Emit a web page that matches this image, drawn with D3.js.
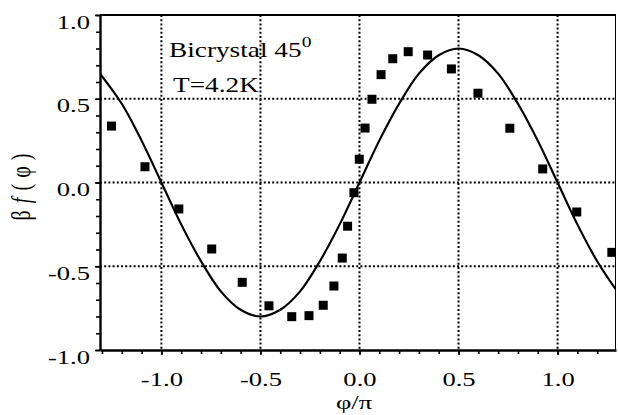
<!DOCTYPE html>
<html>
<head>
<meta charset="utf-8">
<script src="https://cdn.jsdelivr.net/npm/d3@7"></script>
<style>
  body { margin: 0; background: #fff; }
  svg { display: block; font-family: "Liberation Serif", "Times New Roman", serif; }
</style>
</head>
<body>
<script>
// measured points (phi/pi, beta f)
const phiData = [-1.252, -1.083, -0.912, -0.746, -0.592, -0.457, -0.342, -0.255, -0.183, -0.129,
  -0.087, -0.060, -0.028, -0.001, 0.028, 0.063, 0.109, 0.168, 0.246, 0.344, 0.464, 0.598,
  0.759, 0.925, 1.097, 1.274];
const fData = [0.337, 0.094, -0.158, -0.397, -0.596, -0.736, -0.801, -0.795, -0.733, -0.618,
  -0.451, -0.261, -0.061, 0.139, 0.325, 0.497, 0.644, 0.739, 0.781, 0.761, 0.678, 0.533,
  0.324, 0.081, -0.176, -0.417];

// theory curve
const phiCurve = [-1.31, -1.2, -1.1, -1.0, -0.9, -0.8, -0.7, -0.6, -0.5, -0.4, -0.3, -0.2, -0.1,
  0, 0.1, 0.2, 0.3, 0.4, 0.5, 0.6, 0.7, 0.8, 0.9, 1.0, 1.1, 1.2, 1.295];
const fCurve = [0.65, 0.47, 0.25, 0.0, -0.25, -0.47, -0.65, -0.76, -0.80, -0.76, -0.65, -0.47, -0.25,
  0, 0.25, 0.47, 0.65, 0.76, 0.80, 0.76, 0.65, 0.47, 0.25, 0, -0.25, -0.47, -0.64];

const xTicks = [-1.0, -0.5, 0.0, 0.5, 1.0];
const yTicks = [-1.0, -0.5, 0.0, 0.5, 1.0];

const width = 618, height = 415;
const margin = {top: 15, right: 2, bottom: 65, left: 100};
const stretch = 1.4; // glyphs in the figure are wider than tall

const x = d3.scaleLinear().domain([-1.31, 1.295]).range([margin.left, width - margin.right]);
const y = d3.scaleLinear().domain([-1, 1]).range([height - margin.bottom, margin.top]);

const svg = d3.select("body").append("svg")
    .attr("width", width)
    .attr("height", height);

svg.append("clipPath").attr("id", "clip")
  .append("rect")
    .attr("x", margin.left).attr("y", margin.top)
    .attr("width", width - margin.left - margin.right)
    .attr("height", height - margin.top - margin.bottom);

// dotted grid
const grid = svg.append("g")
    .attr("stroke", "#000")
    .attr("stroke-width", 2)
    .attr("stroke-dasharray", "2,2.2");
grid.selectAll("line.v")
  .data(xTicks)
  .join("line")
    .attr("class", "v")
    .attr("x1", d => x(d)).attr("x2", d => x(d))
    .attr("y1", y(1)).attr("y2", y(-1));
grid.selectAll("line.h")
  .data(yTicks.filter(d => Math.abs(d) < 1))
  .join("line")
    .attr("class", "h")
    .attr("x1", x.range()[0]).attr("x2", x.range()[1])
    .attr("y1", d => y(d)).attr("y2", d => y(d));

// frame: top and right
svg.append("line")
    .attr("x1", margin.left).attr("x2", width - margin.right)
    .attr("y1", y(1)).attr("y2", y(1))
    .attr("stroke", "#000").attr("stroke-width", 2);
svg.append("line")
    .attr("x1", width - margin.right - 0.5).attr("x2", width - margin.right - 0.5)
    .attr("y1", y(1)).attr("y2", y(-1))
    .attr("stroke", "#000").attr("stroke-width", 1);

// minor ticks
const minorX = d3.range(-13, 13).map(i => i / 10).filter(v => v >= x.domain()[0] && v <= x.domain()[1]);
const minorY = d3.range(-10, 11).map(i => i / 10);

svg.append("g")
    .attr("transform", `translate(0,${y(-1)})`)
    .call(d3.axisBottom(x).tickValues(minorX).tickSize(4).tickFormat(""))
    .call(g => g.select(".domain").remove())
    .selectAll("line").attr("stroke-width", 1.6);
svg.append("g")
    .attr("transform", `translate(${margin.left},0)`)
    .call(d3.axisLeft(y).tickValues(minorY).tickSize(4).tickFormat(""))
    .call(g => g.select(".domain").remove())
    .selectAll("line").attr("stroke-width", 1.6);

// major axes
const xAxis = svg.append("g")
    .attr("transform", `translate(0,${y(-1)})`)
    .call(d3.axisBottom(x).tickValues(xTicks).tickSize(5).tickSizeOuter(0).tickFormat(d => d.toFixed(1)));
xAxis.select(".domain").attr("stroke-width", 2.4);
xAxis.selectAll("line").attr("stroke-width", 1.6);
xAxis.selectAll("text")
    .attr("font-size", 19)
    .attr("font-family", "Liberation Serif")
    .attr("fill", "#000")
    .attr("dy", null)
    .attr("y", 36)
    .attr("transform", `scale(${stretch},1)`);

const yAxis = svg.append("g")
    .attr("transform", `translate(${margin.left},0)`)
    .call(d3.axisLeft(y).tickValues(yTicks).tickSize(5).tickSizeOuter(0).tickFormat(d => d.toFixed(1)));
yAxis.select(".domain").attr("stroke-width", 2.4);
yAxis.selectAll("line").attr("stroke-width", 1.6);
yAxis.selectAll("text")
    .attr("font-size", 19)
    .attr("font-family", "Liberation Serif")
    .attr("fill", "#000")
    .attr("dy", null)
    .attr("x", -10 / stretch)
    .attr("y", 13)
    .attr("transform", `scale(${stretch},1)`);

// theory curve
const line = d3.line()
    .x((d, i) => x(phiCurve[i]))
    .y(d => y(d))
    .curve(d3.curveCatmullRom);
svg.append("path")
    .attr("clip-path", "url(#clip)")
    .attr("d", line(fCurve))
    .attr("fill", "none")
    .attr("stroke", "#000")
    .attr("stroke-width", 2.2);

// data squares
const s = 9;
svg.append("g")
    .attr("clip-path", "url(#clip)")
  .selectAll("rect")
  .data(phiData)
  .join("rect")
    .attr("x", d => x(d) - s / 2)
    .attr("y", (d, i) => y(fData[i]) - s / 2)
    .attr("width", s)
    .attr("height", s)
    .attr("fill", "#000");

// axis titles
svg.append("text")
    .attr("transform", `translate(354,409) scale(${stretch},1)`)
    .attr("text-anchor", "middle")
    .attr("font-size", 19)
    .text("φ/π");

const yt = svg.append("text")
    .attr("transform", `translate(30,187) rotate(-90) scale(1,${stretch})`)
    .attr("text-anchor", "middle")
    .attr("font-size", 20)
    .attr("textLength", 67)
    .attr("lengthAdjust", "spacing");
yt.append("tspan").text("β");
yt.append("tspan").attr("font-style", "italic").attr("dx", 1).text("f");
yt.append("tspan").attr("dx", 1).text("(φ)");

// annotation
const a1 = svg.append("text")
    .attr("transform", `translate(169,57) scale(1.3,1)`)
    .attr("font-size", 21);
a1.append("tspan").text("Bicrystal 45");
a1.append("tspan").attr("dy", -10).attr("font-size", 15).text("0");

svg.append("text")
    .attr("transform", `translate(173,92) scale(1.3,1)`)
    .attr("font-size", 21)
    .text("T=4.2K");
</script>
</body>
</html>
